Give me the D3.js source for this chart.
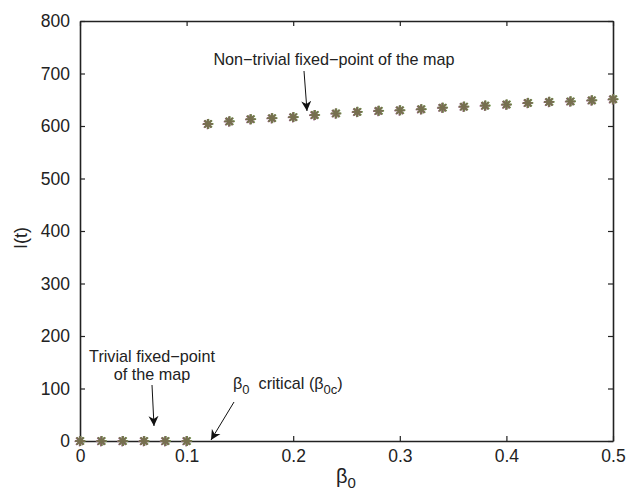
<!DOCTYPE html>
<html lang="en">
<head>
    <meta charset="UTF-8">
    <title>I(t) vs beta0</title>
    <script src="https://unpkg.com/d3@7.8.5/dist/d3.min.js"></script>
    <style>
        * { margin: 0; padding: 0; box-sizing: border-box; }
        body { background: #fff; }
        svg { display: block; font-family: "Liberation Sans", Arial, Helvetica, sans-serif; }
    </style>
</head>
<body>
    <svg class="cc" width="630" height="492"></svg>
    <script>
        // 数据
        const betaLow = [0, 0.02, 0.04, 0.06, 0.08, 0.10]
        const valLow = [0, 0, 0, 0, 0, 0]
        const betaHigh = [0.12, 0.14, 0.16, 0.18, 0.20, 0.22, 0.24, 0.26, 0.28, 0.30,
            0.32, 0.34, 0.36, 0.38, 0.40, 0.42, 0.44, 0.46, 0.48, 0.50]
        const valHigh = [604, 609, 613, 615, 617, 621, 624, 627, 629, 630,
            632, 635, 637, 639, 641, 644, 646, 647, 649, 651]
        const xTicks = [0, 0.1, 0.2, 0.3, 0.4, 0.5]
        const yTicks = [0, 100, 200, 300, 400, 500, 600, 700, 800]

        const margin = { left: 80, right: 17, top: 21, bottom: 51 }
        const W = 630, H = 492
        const svg = d3.select('svg')

        const x = d3.scaleLinear().domain([0, 0.5]).range([margin.left, W - margin.right])
        const y = d3.scaleLinear().domain([0, 800]).range([H - margin.bottom, margin.top])

        const axisColor = '#222'

        // 坐标轴
        const gx = svg.append('g').attr('transform', `translate(0,${y(0)})`)
            .call(d3.axisBottom(x).tickValues(xTicks).tickFormat(d3.format('.1~f')).tickSizeInner(-5).tickSizeOuter(0).tickPadding(9))
        const gxTop = svg.append('g').attr('transform', `translate(0,${y(800)})`)
            .call(d3.axisTop(x).tickValues(xTicks).tickFormat('').tickSizeInner(-5).tickSizeOuter(0))
        const gy = svg.append('g').attr('transform', `translate(${x(0)},0)`)
            .call(d3.axisLeft(y).tickValues(yTicks).tickSizeInner(-5).tickSizeOuter(0).tickPadding(10))
        const gyR = svg.append('g').attr('transform', `translate(${x(0.5)},0)`)
            .call(d3.axisRight(y).tickValues(yTicks).tickFormat('').tickSizeInner(-5).tickSizeOuter(0))

        ;[gx, gxTop, gy, gyR].forEach(g => {
            g.select('.domain').attr('stroke', axisColor).attr('stroke-width', 1.6)
            g.selectAll('.tick line').attr('stroke', axisColor).attr('stroke-width', 1.2)
            g.selectAll('.tick text').attr('fill', '#222').attr('font-size', 17.5)
                .attr('font-family', '"Liberation Sans", Arial, sans-serif')
        })

        // 轴标题
        svg.append('text')
            .attr('transform', `translate(27,238) rotate(-90)`)
            .attr('text-anchor', 'middle').attr('font-size', 18).attr('fill', '#222')
            .text('I(t)')
        const xl = svg.append('text')
            .attr('x', 336).attr('y', 483).attr('font-size', 20).attr('fill', '#222')
        xl.append('tspan').text('β')
        xl.append('tspan').attr('dy', 5).attr('font-size', 15).text('0')

        // 星号标记
        function star(g, cx, cy, r, color, w) {
            for (let k = 0; k < 4; k++) {
                const a = k * Math.PI / 4
                g.append('line')
                    .attr('x1', cx - r * Math.cos(a)).attr('y1', cy - r * Math.sin(a))
                    .attr('x2', cx + r * Math.cos(a)).attr('y2', cy + r * Math.sin(a))
                    .attr('stroke', color).attr('stroke-width', w)
            }
        }
        const pts = betaLow.map((b, i) => [b, valLow[i]])
            .concat(betaHigh.map((b, i) => [b, valHigh[i]]))
        const mk = svg.append('g')
        pts.forEach(([b, v]) => {
            const cx = x(b), cy = y(v)
            star(mk, cx + 0.6, cy, 5, '#6f9a4a', 1.6)
            star(mk, cx - 0.5, cy + 0.4, 5, '#9a5f86', 1.4)
            star(mk, cx, cy, 5, '#76704f', 1.8)
        })

        // 注释
        svg.append('defs').append('marker')
            .attr('id', 'ah').attr('viewBox', '0 0 10 10').attr('refX', 10).attr('refY', 5)
            .attr('markerWidth', 10).attr('markerHeight', 11).attr('markerUnits', 'userSpaceOnUse')
            .attr('orient', 'auto')
            .append('path').attr('d', 'M0,0 L10,5 L0,10 L3,5 Z').attr('fill', '#111')

        const note = svg.append('g').attr('font-size', 16.2).attr('fill', '#222')
        note.append('text').attr('x', 334).attr('y', 65).attr('text-anchor', 'middle')
            .text('Non\u2212trivial fixed\u2212point of the map')
        svg.append('line').attr('x1', 304).attr('y1', 71).attr('x2', 307).attr('y2', 111)
            .attr('stroke', '#111').attr('stroke-width', 1).attr('marker-end', 'url(#ah)')

        note.append('text').attr('x', 152).attr('y', 362).attr('text-anchor', 'middle')
            .text('Trivial fixed\u2212point')
        note.append('text').attr('x', 152).attr('y', 380).attr('text-anchor', 'middle')
            .text('of the map')
        svg.append('line').attr('x1', 152).attr('y1', 385).attr('x2', 154).attr('y2', 426)
            .attr('stroke', '#111').attr('stroke-width', 1).attr('marker-end', 'url(#ah)')

        const crit = note.append('text').attr('x', 233).attr('y', 389)
        crit.append('tspan').text('β')
        crit.append('tspan').attr('dy', 5).attr('font-size', 13).text('0')
        crit.append('tspan').attr('dy', -5).text('\u00a0\u00a0critical (β')
        crit.append('tspan').attr('dy', 5).attr('font-size', 13).text('0c')
        crit.append('tspan').attr('dy', -5).text(')')
        svg.append('line').attr('x1', 234).attr('y1', 402).attr('x2', 211).attr('y2', 440)
            .attr('stroke', '#111').attr('stroke-width', 1).attr('marker-end', 'url(#ah)')
    </script>
</body>
</html>
